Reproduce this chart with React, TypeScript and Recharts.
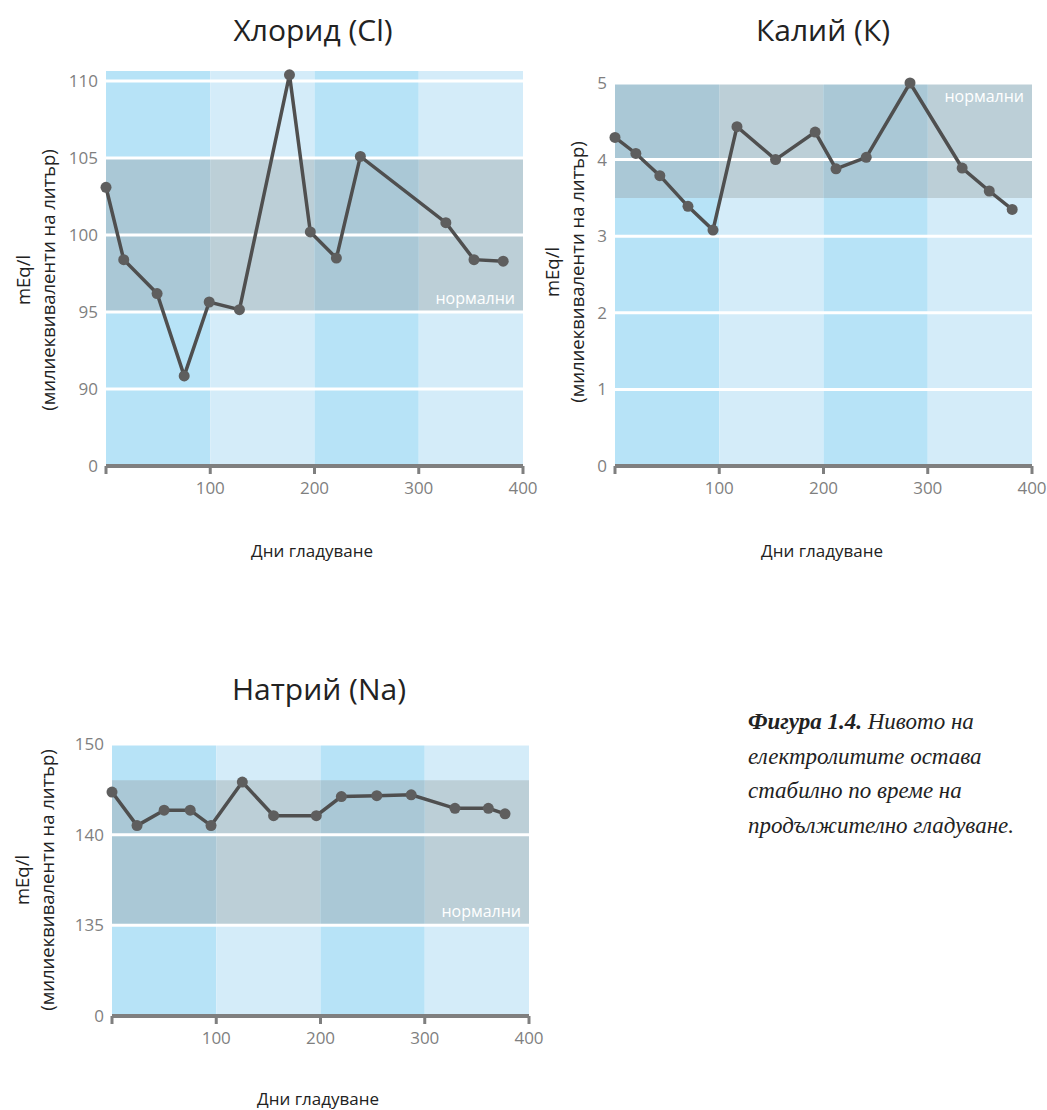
import React from "react";
import { LineChart, Line, XAxis, YAxis, ReferenceArea, ReferenceLine } from "recharts";

const chlorideDays = [0, 17, 49, 75, 99, 128, 176, 196, 221, 244, 326, 353, 381];
const chlorideValues = [103.1, 98.4, 96.2, 90.85, 95.65, 95.15, 110.4, 100.2, 98.5, 105.1, 100.8, 98.4, 98.3];

const potassiumDays = [0, 20, 43, 70, 94, 117, 154, 192, 212, 241, 283, 333, 359, 381];
const potassiumValues = [4.29, 4.08, 3.79, 3.39, 3.08, 4.43, 4.0, 4.36, 3.88, 4.03, 5.0, 3.89, 3.59, 3.35];

const sodiumDays = [0, 24, 50, 75, 95, 125, 155, 196, 220, 254, 287, 329, 361, 377];
const sodiumValues = [144.7, 141.0, 142.7, 142.7, 141.0, 145.8, 142.1, 142.1, 144.2, 144.3, 144.4, 142.9, 142.9, 142.3];

// y tick labels (axis is broken: equal spacing between labels)
const chlorideTicks = [0, 90, 95, 100, 105, 110];
const potassiumTicks = [0, 1, 2, 3, 4, 5];
const sodiumTicks = [0, 135, 140, 150];

const chlorideNormal = [95, 105];
const potassiumNormal = [3.5, 5];
const sodiumNormal = [135, 146];

const xTicks = [0, 100, 200, 300, 400];

const FONT = "'Open Sans', 'Noto Sans', sans-serif";
const BLUE_DARK = "#b7e3f7";
const BLUE_LIGHT = "#d4ecf9";
const GRAY_DARK = "#aac8d6";
const GRAY_LIGHT = "#bccfd7";
const AXIS = "#7f7f7f";

// map a value onto the evenly spaced tick slots
function toSlot(v: number, ticks: number[]) {
  for (let i = 0; i < ticks.length - 1; i++) {
    if (v <= ticks[i + 1] || i === ticks.length - 2) {
      return i + (v - ticks[i]) / (ticks[i + 1] - ticks[i]);
    }
  }
  return 0;
}

interface PanelProps {
  days: number[];
  values: number[];
  ticks: number[];
  normal: number[];
  top: number;
  width: number;
  height: number;
  margin: { top: number; right: number; left: number; bottom: number };
  labelPos: "insideBottomRight" | "insideTopRight";
}

function Panel({ days, values, ticks, normal, top, width, height, margin, labelPos }: PanelProps) {
  const data = days.map((d, i) => ({ day: d, y: toSlot(values[i], ticks) }));
  const slotTicks = ticks.map((_, i) => i);
  const yTop = toSlot(top, ticks);
  const n0 = toSlot(normal[0], ticks);
  const n1 = toSlot(normal[1], ticks);

  const cols = xTicks.slice(0, -1).map((x, i) => ({ x1: x, x2: xTicks[i + 1], dark: i % 2 === 0 }));

  return (
    <LineChart width={width} height={height} data={data} margin={margin}>
      <XAxis
        dataKey="day"
        type="number"
        domain={[0, 400]}
        ticks={xTicks}
        tickFormatter={(v) => (v === 0 ? "" : String(v))}
        axisLine={{ stroke: AXIS, strokeWidth: 4 }}
        tickLine={{ stroke: AXIS, strokeWidth: 3 }}
        tickSize={8}
        tickMargin={8}
        height={40}
        tick={{ fill: AXIS, fontSize: 17, fontFamily: FONT }}
      />
      <YAxis
        type="number"
        domain={[0, yTop]}
        ticks={slotTicks}
        tickFormatter={(v) => String(ticks[v])}
        axisLine={false}
        tickLine={false}
        width={40}
        tick={{ fill: AXIS, fontSize: 17, fontFamily: FONT }}
      />
      {cols.map((c) => (
        <ReferenceArea key={"c" + c.x1} x1={c.x1} x2={c.x2} y1={0} y2={yTop}
          fill={c.dark ? BLUE_DARK : BLUE_LIGHT} fillOpacity={1} stroke="none" />
      ))}
      {cols.map((c) => (
        <ReferenceArea key={"n" + c.x1} x1={c.x1} x2={c.x2} y1={n0} y2={n1}
          fill={c.dark ? GRAY_DARK : GRAY_LIGHT} fillOpacity={1} stroke="none" />
      ))}
      {slotTicks.slice(1).map((s) => (
        <ReferenceLine key={"g" + s} y={s} stroke="#ffffff" strokeWidth={3} />
      ))}
      <ReferenceArea x1={0} x2={400} y1={n0} y2={n1} fill="none" stroke="none"
        label={{ value: "нормални", position: labelPos, fill: "#ffffff", fontSize: 16, fontFamily: FONT, offset: 8 }} />
      <Line
        dataKey="y"
        type="linear"
        stroke="#4f4f4f"
        strokeWidth={3.5}
        dot={{ r: 5.5, fill: "#5e5e5e", stroke: "none" }}
        isAnimationActive={false}
      />
    </LineChart>
  );
}

const titleStyle: React.CSSProperties = {
  position: "absolute",
  transform: "translate(-50%, -50%)",
  fontFamily: FONT,
  fontSize: 30,
  color: "#222",
  whiteSpace: "nowrap",
};

const xLabelStyle: React.CSSProperties = {
  position: "absolute",
  transform: "translate(-50%, -50%)",
  fontFamily: FONT,
  fontSize: 17,
  color: "#222",
  whiteSpace: "nowrap",
};

function YTitle({ x, y }: { x: number; y: number }) {
  return (
    <div
      style={{
        position: "absolute",
        left: x,
        top: y,
        transform: "translate(-50%, -50%) rotate(-90deg)",
        fontFamily: FONT,
        fontSize: 18.5,
        lineHeight: "25px",
        color: "#222",
        textAlign: "center",
        whiteSpace: "nowrap",
      }}
    >
      mEq/l
      <br />
      (милиеквиваленти на литър)
    </div>
  );
}

export default function App() {
  return (
    <div style={{ position: "absolute", left: 0, top: 0, width: 1047, height: 1110, background: "#fff" }}>
      <div style={{ position: "absolute", left: 0, top: 0 }}>
        <Panel days={chlorideDays} values={chlorideValues} ticks={chlorideTicks} normal={chlorideNormal}
          top={110.65} width={540} height={510}
          margin={{ top: 71, right: 17, left: 66, bottom: 4 }} labelPos="insideBottomRight" />
      </div>
      <div style={{ position: "absolute", left: 520, top: 0 }}>
        <Panel days={potassiumDays} values={potassiumValues} ticks={potassiumTicks} normal={potassiumNormal}
          top={5} width={527} height={510}
          margin={{ top: 83, right: 15, left: 55, bottom: 4 }} labelPos="insideTopRight" />
      </div>
      <div style={{ position: "absolute", left: 0, top: 660 }}>
        <Panel days={sodiumDays} values={sodiumValues} ticks={sodiumTicks} normal={sodiumNormal}
          top={150} width={545} height={400}
          margin={{ top: 84, right: 16, left: 72, bottom: 4 }} labelPos="insideBottomRight" />
      </div>

      <div style={{ ...titleStyle, left: 313, top: 29 }}>Хлорид (Cl)</div>
      <div style={{ ...titleStyle, left: 823, top: 29 }}>Калий (К)</div>
      <div style={{ ...titleStyle, left: 319, top: 688 }}>Натрий (Na)</div>

      <div style={{ ...xLabelStyle, left: 312, top: 550 }}>Дни гладуване</div>
      <div style={{ ...xLabelStyle, left: 822, top: 550 }}>Дни гладуване</div>
      <div style={{ ...xLabelStyle, left: 318, top: 1098 }}>Дни гладуване</div>

      <YTitle x={35} y={280} />
      <YTitle x={564} y={272} />
      <YTitle x={34} y={880} />

      <div
        style={{
          position: "absolute",
          left: 748,
          top: 705,
          fontFamily: "'Liberation Serif', 'DejaVu Serif', serif",
          fontStyle: "italic",
          fontSize: 23,
          lineHeight: "34.5px",
          color: "#222",
        }}
      >
        <b>Фигура 1.4.</b> Нивото на
        <br />
        електролитите остава
        <br />
        стабилно по време на
        <br />
        продължително гладуване.
      </div>
    </div>
  );
}
